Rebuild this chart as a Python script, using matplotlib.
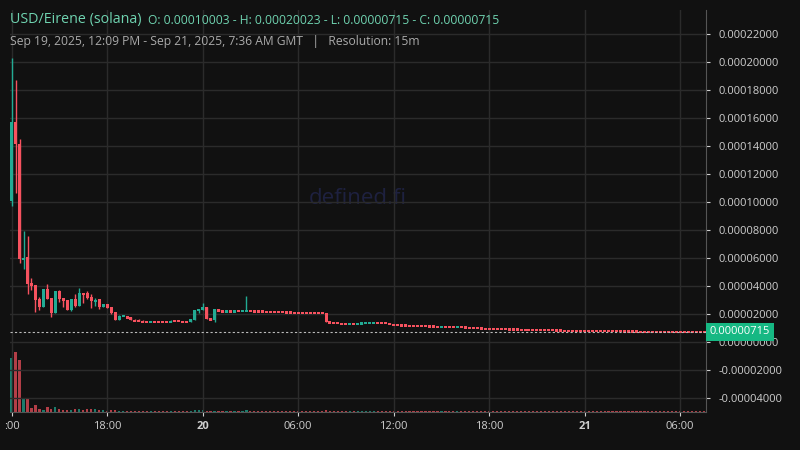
import matplotlib
matplotlib.use("Agg")
import matplotlib.pyplot as plt
from matplotlib.ticker import FixedLocator, FuncFormatter

S = 1e-5
opens_head = [10.09,15.7,14.17,5.95,6.07,4.2,4.07,3.07,2.52,3.79,3.14,2.07,3.64,3.17,3.0,2.31,3.07,2.6,3.5,3.5,
              3.24,2.95,3.07,2.52,2.74,2.52,2.14,1.6,1.88,1.86,1.79,1.67,1.6,1.57,1.45,1.43,1.43,1.43,1.43,1.43,
              1.43,1.55,1.52,1.52,1.45,1.43,1.6,2.29,2.29,2.5,1.71,1.6,2.36,2.24]
closes_head = [15.7,14.17,5.95,6.07,4.17,4.02,3.02,2.52,3.79,3.1,2.07,3.64,3.1,2.95,2.31,3.07,2.6,3.5,3.45,3.17,
               2.95,3.1,2.52,2.74,2.45,2.1,1.6,1.88,1.9,1.74,1.6,1.52,1.52,1.45,1.43,1.45,1.43,1.43,1.43,1.43,
               1.55,1.52,1.5,1.43,1.43,1.64,2.29,2.36,2.52,1.67,1.6,2.36,2.24,2.17]
highs_head = [20.26,18.7,14.5,7.93,7.57,4.55,4.07,3.21,3.79,4.12,3.14,3.64,3.71,3.17,3.0,3.07,3.45,3.88,3.5,3.64,
              3.45,3.17,3.07,2.74,2.74,2.52,2.14,1.95,1.95,1.86,1.79,1.67,1.62,1.57,1.46,1.5,1.43,1.43,1.43,1.43,
              1.6,1.55,1.52,1.52,1.45,1.64,2.29,2.36,2.81,2.5,1.71,2.36,2.36,2.24]
lows_head = [9.74,10.67,5.62,5.24,3.45,3.74,2.17,2.31,2.52,3.1,1.81,2.07,2.88,2.52,2.31,2.24,2.52,2.6,2.81,3.1,
             2.45,2.6,2.38,2.52,2.42,2.02,1.6,1.6,1.86,1.74,1.6,1.52,1.5,1.45,1.42,1.42,1.42,1.42,1.42,1.42,
             1.43,1.52,1.5,1.43,1.42,1.43,1.6,2.1,2.29,1.67,1.6,1.45,2.24,2.17]
closes_tail = [2.2,2.18,2.2,2.2,2.22,2.25,2.2,2.18,2.17,2.17,2.15,2.14,2.14,2.12,2.12,2.1,2.1,2.09,2.08,2.08,2.07,2.07,2.07,2.07,2.07,
               1.45,1.4,1.36,1.33,1.3,1.3,1.31,1.3,1.32,1.33,1.35,1.36,1.37,1.36,1.35,1.33,1.3,
               1.22,1.2,1.18,1.17,1.16,1.15,1.15,1.14,1.12,1.1,1.1,1.08,1.1,1.08,1.06,1.05,1.06,1.05,1.03,1.0,1.0,0.98,0.97,0.95,0.95,
               0.94,0.93,0.92,0.92,0.9,0.9,0.89,0.88,0.87,0.86,0.86,0.85,0.85,0.84,0.83,0.83,0.82,0.82,0.81,0.81,
               0.8,0.8,0.79,0.79,0.78,0.78,0.78,0.77,0.77,0.77,0.76,0.76,0.76,0.75,0.75,0.75,0.75,0.74,0.74,0.74,
               0.74,0.73,0.73,0.73,0.73,0.73,0.72,0.72,0.72,0.72,0.72,0.72,0.715,0.715]
spike_index = 59
spike_high = 3.3
volumes = [54,60,52,14,13,4,7,3,2,5,3,5,3,2,2,2,3,3,2,3,3,3,2,2,1.5,2,2,1,1,1,
           1,1,1,1,1,1,1,1,1,1,1,1,1,1,1,1,2,2,2,1.5,1,1,1.5,1,1,1,1,1,1,2,
           1,1,1,1,1,1,1,1,1,1,1,1,1,1,1,1,1,1,1,2,1,1,1,1,1,1,1,1,1,1,
           1,1,1,1,1,1,1,1,1,1,1,1,1,1,1,1,1,1,1,1,1,1,1,1,1,1,1,1,1,1,
           1,1,1,1,1,1,1,1,1,1,1,1,1,1,1,1,1,1,1,1,1,1,1,1,1,1,1,1,1,1,
           1,1,1,1,1,1,1,1,1,1,1,1,1,1,1,1,1,1,1,1,1,1,1,1,1]
tick_pos = [0, 24, 48, 72, 96, 120, 144, 168]
tick_labels = [':00', '18:00', '20', '06:00', '12:00', '18:00', '21', '06:00']
last_price = 0.715

opens = list(opens_head); closes = list(closes_head); highs = list(highs_head); lows = list(lows_head)
prev = closes_head[-1]
for i, c in enumerate(closes_tail):
    idx = len(closes_head) + i
    opens.append(prev); closes.append(c)
    highs.append(max(prev, c) if idx != spike_index else spike_high)
    lows.append(min(prev, c))
    prev = c

BG = '#111111'; GREEN = '#22ab94'; RED = '#f7525f'; TXT = '#cfcfcf'; GRID = '#2b2b2b'
fig = plt.figure(figsize=(8, 4.5), dpi=100, facecolor=BG)
ax = fig.add_axes([0.0125, 0.0844, 0.87, 0.8936])
ax.set_facecolor(BG)
vax = ax.twinx()
vax.set_ylim(0, 402); vax.axis('off')
ax.set_zorder(vax.get_zorder() + 1); ax.patch.set_visible(False)
vax.patch.set_facecolor(BG); vax.patch.set_visible(True)

for i in range(len(opens)):
    o, c, h, l = opens[i], closes[i], highs[i], lows[i]
    col = GREEN if c > o else RED
    ax.vlines(i, l * S, h * S, color=col, lw=1, zorder=3)
    body = max(abs(c - o), 0.16)
    ax.bar(i, body * S, bottom=(min(o, c) - (0.08 if abs(c - o) < 0.16 else 0)) * S,
           width=0.75, color=col, zorder=4, linewidth=0)
    vax.bar(i, volumes[i] if i < len(volumes) else 1, width=0.55, color=col, alpha=0.7, linewidth=0)

x0 = -0.4
ax.set_xlim(x0, x0 + 696 / 3.98)
ax.set_ylim(-5.0e-5, 2.371e-4)
ax.yaxis.tick_right()
yt = [k * 2e-5 for k in range(-2, 12)]
ax.yaxis.set_major_locator(FixedLocator(yt))
ax.yaxis.set_major_formatter(FuncFormatter(lambda v, p: f'{v:.8f}'))
ax.set_xticks(tick_pos)
ax.set_xticklabels(tick_labels)
for t, lab in zip(ax.get_xticklabels(), tick_labels):
    if lab in ('20', '21'):
        t.set_fontweight('bold')
ax.tick_params(colors=TXT, labelsize=8, length=3)
ax.tick_params(axis='y', pad=6)
ax.grid(True, color=GRID, lw=1)
for side in ('top', 'left'):
    ax.spines[side].set_visible(False)
for side in ('right', 'bottom'):
    ax.spines[side].set_color('#555555')
for t in ax.get_yticklabels():
    t.set_fontfamily('Open Sans')
for t in ax.get_xticklabels():
    t.set_fontfamily('Open Sans')

ax.axhline(last_price * S, color='#bbbbbb', lw=0.8, ls=(0, (2, 2)), zorder=5)
ax.text(1.005, last_price * S, f'{last_price * S:.8f}', transform=ax.get_yaxis_transform(),
        ha='left', va='center', color='white', fontsize=8, family='Open Sans',
        bbox=dict(boxstyle='square,pad=0.35', fc='#16b883', ec='none'), clip_on=False, zorder=6)

ax.text(0.5, 0.53, 'defined.fi', transform=ax.transAxes, ha='center', va='center',
        color='#1e2140', fontsize=16, family='Open Sans', zorder=1)

fig.text(10/800, 1 - 20/450, 'USD/Eirene (solana)', color='#6fd3b0', fontsize=10.3, family='Open Sans', va='center')
fig.text(148/800, 1 - 20/450, 'O: 0.00010003 - H: 0.00020023 - L: 0.00000715 - C: 0.00000715',
         color='#6fd3b0', fontsize=8.75, family='Open Sans', va='center')
fig.text(10/800, 1 - 41/450, 'Sep 19, 2025, 12:09 PM - Sep 21, 2025, 7:36 AM GMT   |   Resolution: 15m',
         color='#aaaaaa', fontsize=8.75, family='Open Sans', va='center')

fig.savefig('out.png', dpi=100, facecolor=BG)
